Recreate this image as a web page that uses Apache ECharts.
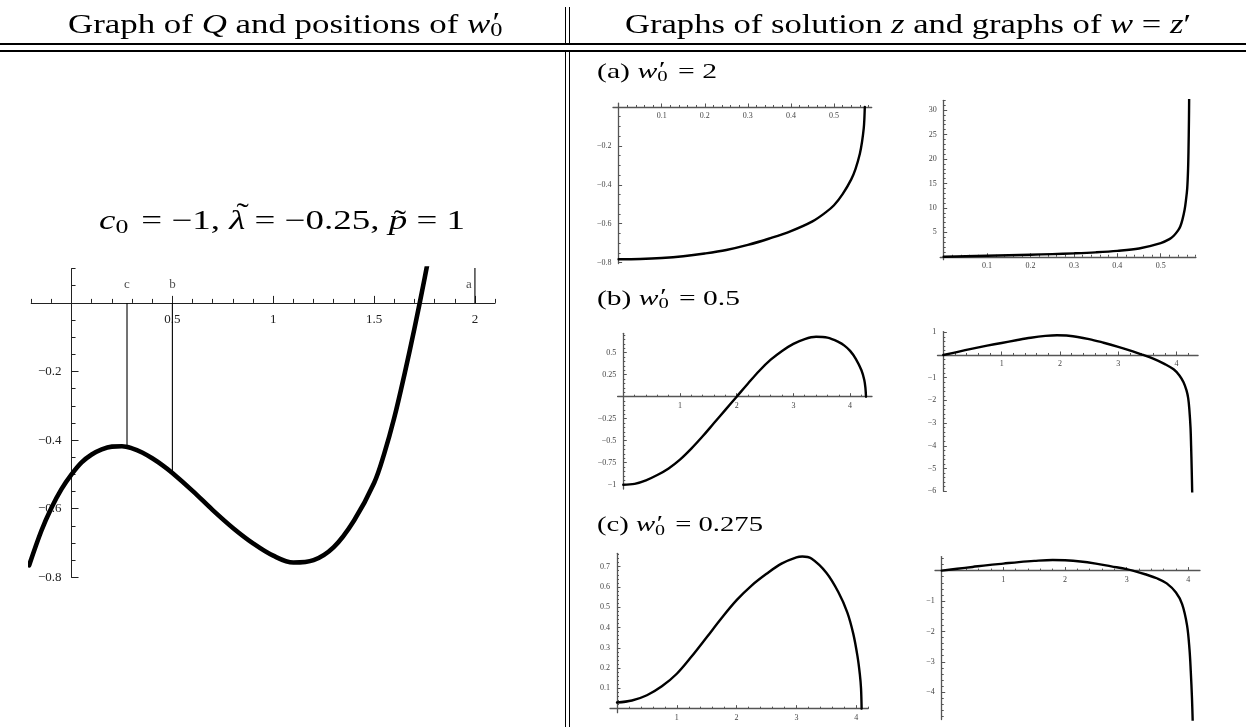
<!DOCTYPE html>
<html>
<head>
<meta charset="utf-8">
<title>Graph of Q and solutions z, w</title>
<script src="https://cdn.jsdelivr.net/npm/echarts@6.0.0/dist/echarts.min.js"></script>
<style>
  html, body { margin: 0; padding: 0; background: #fff; }
  #page { position: relative; width: 1246px; height: 727px; overflow: hidden; }
  #chart { position: absolute; left: 0; top: 0; width: 1246px; height: 727px; }
  .rule { position: absolute; background: #000; }
  .tex { position: absolute; white-space: nowrap; line-height: 1; font-family: 'Liberation Serif', serif; color: #000; transform-origin: 0 0; }
  .ps { display: inline-block; position: relative; width: 0.45em; height: 0; }
  .ps .p { position: absolute; left: 0.06em; top: -0.88em; }
  .ps .s { position: absolute; left: 0; top: -0.62em; font-size: 0.7em; font-style: normal; }
  .acc { display: inline-block; position: relative; }
  .acc .t { position: absolute; font-style: normal; }
</style>
</head>
<body>
<div id="page">
  <div id="chart"></div>

  <!-- table rules -->
  <div class="rule" style="left:0;top:43px;width:1246px;height:2px"></div>
  <div class="rule" style="left:0;top:49.5px;width:1246px;height:2px"></div>
  <div class="rule" style="left:564.5px;top:7px;width:1.5px;height:36px"></div>
  <div class="rule" style="left:568.5px;top:7px;width:1.5px;height:36px"></div>
  <div class="rule" style="left:564.5px;top:51.5px;width:1.5px;height:676px"></div>
  <div class="rule" style="left:568.5px;top:51.5px;width:1.5px;height:676px"></div>

  <!-- text -->
  <div class="tex" data-w="438" style="left:68px;top:10.7px;font-size:27px">Graph of <i>Q</i> and positions of <i>w</i><span class="ps"><span class="p">′</span><span class="s">0</span></span></div>
  <div class="tex" data-w="566" style="left:625px;top:10.7px;font-size:27px">Graphs of solution <i>z</i> and graphs of <i>w</i> = <i>z</i>′</div>
  <div class="tex" data-w="366" style="left:99px;top:207.4px;font-size:27px"><i>c</i><span class="ps"><span class="s">0</span></span> = −1, <span class="acc"><i>λ</i><span class="t" style="left:0.2em;top:-0.26em">˜</span></span> = −0.25, <span class="acc"><i>p</i><span class="t" style="left:0.14em;top:-0.02em">˜</span></span> = 1</div>
  <div class="tex" data-w="120" style="left:597px;top:59.6px;font-size:22px">(a) <i>w</i><span class="ps"><span class="p">′</span><span class="s">0</span></span> = 2</div>
  <div class="tex" data-w="143" style="left:597px;top:286.6px;font-size:22px">(b) <i>w</i><span class="ps"><span class="p">′</span><span class="s">0</span></span> = 0.5</div>
  <div class="tex" data-w="166" style="left:597px;top:513.1px;font-size:22px">(c) <i>w</i><span class="ps"><span class="p">′</span><span class="s">0</span></span> = 0.275</div>
</div>

<script>
// Q(w) for c0 = -1, lambda = -0.25, p = 1
const qW = [-0.21, -0.15, -0.1, -0.05, 0, 0.05, 0.1, 0.15, 0.2, 0.25, 0.3, 0.35, 0.4, 0.45, 0.5,
  0.6, 0.7, 0.8, 0.9, 1.0, 1.1, 1.2, 1.3, 1.4, 1.5, 1.55, 1.6, 1.65, 1.7, 1.75, 1.8];
const qVal = [-0.765, -0.665, -0.598, -0.543, -0.5, -0.465, -0.442, -0.427, -0.419, -0.418, -0.424,
  -0.436, -0.453, -0.473, -0.496, -0.548, -0.604, -0.656, -0.701, -0.737, -0.757, -0.75, -0.712,
  -0.635, -0.525, -0.44, -0.335, -0.21, -0.075, 0.07, 0.225];

// positions of w0' on the Q graph
const markW = [0.275, 0.5, 2];
const markQ = [-0.418, -0.496, 1.14];
const markNames = ['c', 'b', 'a'];

const qTickX = [0.5, 1, 1.5, 2];
const qTickY = [-0.8, -0.6, -0.4, -0.2];

// (a) w0' = 2
const a1T = [0, 0.05, 0.1, 0.15, 0.2, 0.25, 0.3, 0.35, 0.4, 0.45, 0.48, 0.5, 0.52, 0.54, 0.55,
  0.56, 0.565, 0.569, 0.5705, 0.5715];
const a1Z = [-0.783, -0.781, -0.776, -0.767, -0.753, -0.735, -0.709, -0.676, -0.638, -0.588,
  -0.543, -0.505, -0.448, -0.372, -0.318, -0.24, -0.18, -0.11, -0.06, 0];
const a2T = [0, 0.05, 0.1, 0.15, 0.2, 0.25, 0.3, 0.35, 0.4, 0.45, 0.5, 0.52, 0.53, 0.54, 0.545,
  0.55, 0.555, 0.558, 0.561, 0.563, 0.564, 0.565, 0.5655];
const a2W = [0, 0.1, 0.2, 0.31, 0.42, 0.55, 0.7, 0.9, 1.2, 1.7, 2.8, 3.6, 4.3, 5.4, 6.2, 7.6, 9.6,
  11.5, 14, 18, 22, 28, 33];
const aTickX = [0.1, 0.2, 0.3, 0.4, 0.5];
const a1TickY = [-0.8, -0.6, -0.4, -0.2];
const a2TickY = [5, 10, 15, 20, 25, 30];

// (b) w0' = 0.5
const b1T = [0, 0.2, 0.4, 0.6, 0.8, 1.0, 1.2, 1.4, 1.6, 1.8, 2.0, 2.2, 2.4, 2.6, 2.8, 3.0, 3.2,
  3.4, 3.6, 3.8, 3.9, 4.0, 4.1, 4.2, 4.25, 4.27, 4.28];
const b1Z = [-1, -0.99, -0.95, -0.89, -0.815, -0.715, -0.59, -0.45, -0.3, -0.15, 0, 0.15, 0.295,
  0.42, 0.52, 0.6, 0.655, 0.68, 0.67, 0.62, 0.58, 0.52, 0.43, 0.3, 0.19, 0.1, 0];
const b2T = [0, 0.25, 0.5, 0.75, 1.0, 1.25, 1.5, 1.75, 1.95, 2.15, 2.5, 2.75, 3.0, 3.25, 3.43, 3.6,
  3.8, 3.95, 4.05, 4.12, 4.17, 4.2, 4.22, 4.24, 4.25, 4.26, 4.27];
const b2W = [0, 0.14, 0.28, 0.41, 0.53, 0.65, 0.76, 0.84, 0.87, 0.85, 0.7, 0.54, 0.36, 0.16, 0,
  -0.16, -0.4, -0.63, -0.9, -1.2, -1.55, -1.9, -2.4, -3.2, -4.0, -5.0, -6.2];
const bTickX = [1, 2, 3, 4];
const b1TickY = [-1, -0.75, -0.5, -0.25, 0.25, 0.5];
const b2TickY = [-6, -5, -4, -3, -2, -1, 1];

// (c) w0' = 0.275
const c1T = [0, 0.25, 0.5, 0.75, 1.0, 1.25, 1.5, 1.75, 2.0, 2.25, 2.5, 2.75, 3.0, 3.1, 3.25, 3.5,
  3.7, 3.85, 3.95, 4.02, 4.06, 4.08, 4.09];
const c1Z = [0.03, 0.04, 0.066, 0.11, 0.172, 0.258, 0.352, 0.447, 0.535, 0.607, 0.665, 0.715,
  0.746, 0.75, 0.74, 0.67, 0.575, 0.475, 0.37, 0.26, 0.17, 0.1, 0];
const c2T = [0, 0.25, 0.5, 0.75, 1.0, 1.25, 1.5, 1.8, 2.0, 2.25, 2.5, 2.75, 3.0, 3.1, 3.3, 3.5,
  3.65, 3.8, 3.9, 3.98, 4.02, 4.04, 4.06, 4.075];
const c2W = [0, 0.06, 0.12, 0.18, 0.23, 0.28, 0.32, 0.35, 0.34, 0.3, 0.23, 0.14, 0.05, 0, -0.12,
  -0.26, -0.42, -0.72, -1.1, -1.8, -2.6, -3.3, -4.2, -5.2];
const cTickX = [1, 2, 3, 4];
const c1TickY = [0.1, 0.2, 0.3, 0.4, 0.5, 0.6, 0.7];
const c2TickY = [-4, -3, -2, -1];

// minor tick positions between from..to
function steps(from, to, step) {
  const out = [];
  for (let v = from; v <= to + 1e-9; v += step) out.push(+v.toFixed(4));
  return out;
}
const minus = v => String(v).replace('-', '\u2212');

const bigStyle = { line: '#222', lineW: 1, majorLen: 7, minorLen: 4, font: 13, text: '#222', mx: 10, my: 10 };
const smallStyle = { line: '#555', lineW: 1.3, majorLen: 3.5, minorLen: 2, font: 8, text: '#444', mx: 5, my: 7 };

// box = [left, top, width, height] of the plot area
const panels = [
  { box: [31.2, 268.6, 463.9, 308.7], x: [-0.2, 2.1], y: [-0.8, 0.1], xl: qTickX, yl: qTickY,
    xm: steps(-0.2, 2.1, 0.1), ym: steps(-0.8, 0.1, 0.05), st: bigStyle },
  { box: [613, 103.1, 258.7, 160.5], x: [-0.013, 0.5875], y: [-0.805, 0.02], xl: aTickX, yl: a1TickY,
    xm: steps(0, 0.58, 0.02), ym: steps(-0.8, 0, 0.05), st: smallStyle },
  { box: [940.2, 100.3, 255.7, 159.4], x: [-0.008, 0.581], y: [-0.6, 32], xl: aTickX, yl: a2TickY,
    xm: steps(0, 0.58, 0.02), ym: steps(0, 32, 1), st: smallStyle },
  { box: [617.6, 333.3, 254.4, 155.8], x: [-0.1, 4.386], y: [-1.05, 0.72], xl: bTickX, yl: b1TickY,
    xm: steps(0, 4.2, 0.2), ym: steps(-1, 0.7, 0.05), st: smallStyle },
  { box: [937.5, 331.6, 260.6, 159.6], x: [-0.1, 4.37], y: [-6, 1.03], xl: bTickX, yl: b2TickY,
    xm: steps(0, 4.2, 0.2), ym: steps(-6, 1, 0.2), st: smallStyle },
  { box: [610, 553.3, 258.2, 159.4], x: [-0.117, 4.2], y: [-0.02, 0.766], xl: cTickX, yl: c1TickY,
    xm: steps(0, 4.2, 0.2), ym: steps(0, 0.76, 0.02), st: smallStyle },
  { box: [935, 556.6, 265, 163], x: [-0.109, 4.19], y: [-4.9, 0.46], xl: cTickX, yl: c2TickY,
    xm: steps(0, 4.0, 0.2), ym: steps(-4.8, 0.4, 0.2), st: smallStyle }
];

// axes cross at the origin: shift them from the grid edge onto the zero line
function makeAxis(dim, gi, ext, ticks, st, major, shift) {
  return {
    type: 'value',
    gridIndex: gi,
    min: ext[0],
    max: ext[1],
    position: dim === 'x' ? 'bottom' : 'left',
    offset: -shift,
    splitLine: { show: false },
    axisLine: { show: major, onZero: false, lineStyle: { color: st.line, width: st.lineW } },
    axisTick: {
      show: true, inside: true, customValues: ticks,
      length: major ? st.majorLen : st.minorLen,
      lineStyle: { color: st.line, width: 1 }
    },
    axisLabel: major ? {
      show: true, customValues: ticks, formatter: minus,
      margin: dim === 'x' ? st.mx : st.my,
      fontSize: st.font, color: st.text, fontFamily: 'Liberation Serif'
    } : { show: false },
    z: 3
  };
}

const grid = [], xAxis = [], yAxis = [];
panels.forEach((p, i) => {
  const [left, top, width, height] = p.box;
  grid.push({ left, top, width, height, containLabel: false, outerBoundsMode: 'none' });
  const xShift = height * (0 - p.y[0]) / (p.y[1] - p.y[0]);
  const yShift = width * (0 - p.x[0]) / (p.x[1] - p.x[0]);
  xAxis.push(makeAxis('x', i, p.x, p.xl, p.st, true, xShift), makeAxis('x', i, p.x, p.xm, p.st, false, xShift));
  yAxis.push(makeAxis('y', i, p.y, p.yl, p.st, true, yShift), makeAxis('y', i, p.y, p.ym, p.st, false, yShift));
});

function curve(gi, xs, ys, width) {
  return {
    type: 'line', xAxisIndex: 2 * gi, yAxisIndex: 2 * gi,
    data: xs.map((x, k) => [x, ys[k]]),
    symbol: 'none', smooth: 0.35, clip: true, silent: true,
    lineStyle: { color: '#000', width: width, join: 'round', cap: 'round' }, z: 5
  };
}

const series = [
  curve(0, qW, qVal, 4.6),
  curve(1, a1T, a1Z, 2.4),
  curve(2, a2T, a2W, 2.4),
  curve(3, b1T, b1Z, 2.4),
  curve(4, b2T, b2W, 2.4),
  curve(5, c1T, c1Z, 2.4),
  curve(6, c2T, c2W, 2.4)
];

// vertical lines at w0' positions, from the axis to the graph of Q
markW.forEach((w, k) => {
  series.push({
    type: 'line', xAxisIndex: 0, yAxisIndex: 0, data: [[w, 0], [w, markQ[k]]],
    symbol: 'none', clip: true, silent: true, lineStyle: { color: '#000', width: 1.1 }, z: 4
  });
});
series.push({
  type: 'scatter', xAxisIndex: 0, yAxisIndex: 0, symbolSize: 1, silent: true,
  itemStyle: { color: 'rgba(0,0,0,0)' },
  data: markW.map((w, k) => ({
    value: [w, 0.052], name: markNames[k],
    label: k === markW.length - 1 ? { offset: [-6, 0] } : {}
  })),
  label: { show: true, position: 'inside', formatter: '{b}', fontSize: 13, color: '#222', fontFamily: 'Liberation Serif' }
});

const chart = echarts.init(document.getElementById('chart'), null, { renderer: 'canvas' });
chart.setOption({ animation: false, grid, xAxis, yAxis, series });

// fit the TeX-like captions to the widths they take in the original
function fitText() {
  document.querySelectorAll('.tex').forEach(el => {
    el.style.transform = 'none';
    const w = el.getBoundingClientRect().width;
    el.style.transform = 'scaleX(' + (+el.dataset.w / w) + ')';
  });
}
fitText();
if (document.fonts) document.fonts.ready.then(fitText);
</script>
</body>
</html>
